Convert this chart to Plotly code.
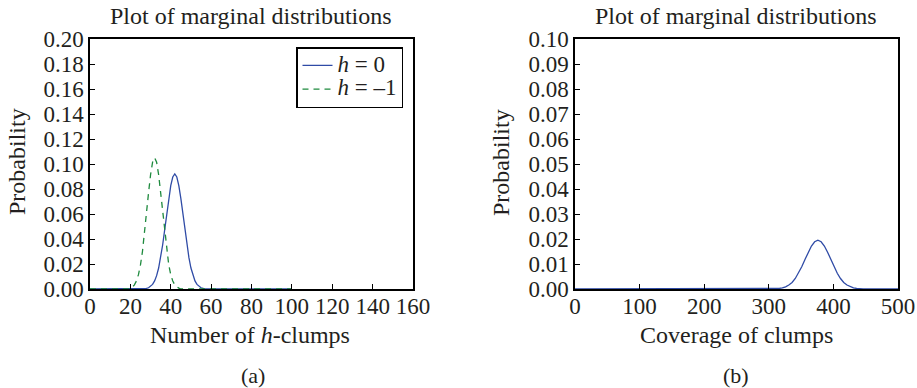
import plotly.graph_objects as go

# ---- data ----
h0_x = [0, 27, 28, 29, 30, 31, 32, 33, 34, 35, 36, 37, 38, 39, 40, 41, 42, 43, 44, 45,
        46, 47, 48, 49, 50, 51, 52, 53, 54, 55, 56, 57, 100]
h0_y = [0, 0, 0.0005, 0.0010, 0.0020, 0.0037, 0.0065, 0.0107, 0.0168, 0.0251, 0.0354,
        0.0474, 0.0602, 0.0725, 0.0827, 0.0896, 0.0920, 0.0896, 0.0827, 0.0725, 0.0602,
        0.0474, 0.0354, 0.0251, 0.0168, 0.0107, 0.0065, 0.0037, 0.0020, 0.0010, 0.0005, 0, 0]

hm1_x = [0, 19, 20, 21, 22, 23, 24, 25, 26, 27, 28, 29, 30, 31, 32, 33, 34, 35, 36, 37,
         38, 39, 40, 41, 42, 43, 44, 45, 100]
hm1_y = [0, 0, 0.0007, 0.0016, 0.0033, 0.0064, 0.0115, 0.0193, 0.0302, 0.0442, 0.0603,
         0.0769, 0.0914, 0.1014, 0.1050, 0.1014, 0.0914, 0.0769, 0.0603, 0.0442, 0.0302,
         0.0193, 0.0115, 0.0064, 0.0033, 0.0016, 0.0007, 0, 0]

cov_x = [0, 306, 311, 316, 321, 326, 331, 336, 341, 346, 351, 356, 361, 366, 371, 376,
         381, 386, 391, 396, 401, 406, 411, 416, 421, 426, 431, 436, 441, 446, 500]
cov_y = [0, 0, 0.0001, 0.00022, 0.00044, 0.00086, 0.0016, 0.0026, 0.0042, 0.0063, 0.0089,
         0.0118, 0.0147, 0.0172, 0.0189, 0.0195, 0.0189, 0.0172, 0.0147, 0.0118, 0.0089,
         0.0063, 0.0042, 0.0026, 0.0016, 0.00086, 0.00044, 0.00022, 0.0001, 0, 0]

left_xticks = [0, 20, 40, 60, 80, 100, 120, 140, 160]
left_yticks = [0.00, 0.02, 0.04, 0.06, 0.08, 0.10, 0.12, 0.14, 0.16, 0.18, 0.20]
right_xticks = [0, 100, 200, 300, 400, 500]
right_yticks = [0.00, 0.01, 0.02, 0.03, 0.04, 0.05, 0.06, 0.07, 0.08, 0.09, 0.10]

BLUE = "#2f4ba6"
GREEN = "#1e8a3e"
TXT = "#231f20"
FONT = "Liberation Serif"

def leg(label):
    return '<span style="font-size:23px">' + label + '</span>'

fig = go.Figure()
fig.add_trace(go.Scatter(x=h0_x, y=h0_y, mode="lines", name=leg("<i>h</i> = 0"),
                         line=dict(color=BLUE, width=1.3), xaxis="x", yaxis="y"))
fig.add_trace(go.Scatter(x=hm1_x, y=hm1_y, mode="lines", name=leg("<i>h</i> = \u20131"),
                         line=dict(color=GREEN, width=1.3, dash="6px,5px"), xaxis="x", yaxis="y"))
fig.add_trace(go.Scatter(x=cov_x, y=cov_y, mode="lines", showlegend=False,
                         line=dict(color=BLUE, width=1.3), xaxis="x2", yaxis="y2"))

ax_common = dict(showline=True, linecolor="black", linewidth=1.5, mirror=True,
                 ticks="inside", ticklen=5, tickcolor="black", showgrid=False,
                 zeroline=False, automargin=False,
                 tickfont=dict(family=FONT, size=23, color=TXT))

ydom = [1 - 289 / 388, 1 - 39 / 388]
fig.update_layout(
    template="none",
    width=917, height=388,
    margin=dict(l=0, r=0, t=0, b=0, pad=0),
    paper_bgcolor="white", plot_bgcolor="white",
    font=dict(family=FONT, color=TXT),
    xaxis=dict(domain=[90 / 917, 413 / 917], range=[0, 160], tickvals=left_xticks,
               anchor="y", ticklabelstandoff=-4, **ax_common),
    yaxis=dict(domain=ydom, range=[0, 0.2], tickvals=left_yticks, tickformat=".2f",
               anchor="x", **ax_common),
    xaxis2=dict(domain=[575 / 917, 898 / 917], range=[0, 500], tickvals=right_xticks,
                anchor="y2", ticklabelstandoff=-4, **ax_common),
    yaxis2=dict(domain=ydom, range=[0, 0.1], tickvals=right_yticks, tickformat=".2f",
                anchor="x2", **ax_common),
    showlegend=True,
    legend=dict(x=403 / 917, xanchor="right", y=1 - 47 / 388, yanchor="top",
                bgcolor="white", bordercolor="black", borderwidth=1.5,
                font=dict(family=FONT, size=16, color=TXT), tracegroupgap=0,
                itemwidth=30),
)

ann = []
def add_text(x, y, text, size, angle=0):
    ann.append(dict(x=x / 917, y=1 - y / 388, xref="paper", yref="paper", text=text,
                    showarrow=False, font=dict(family=FONT, size=size, color=TXT),
                    textangle=angle, xanchor="center", yanchor="middle"))

add_text(251, 16, "Plot of marginal distributions", 24)
add_text(736, 16, "Plot of marginal distributions", 24)
add_text(250, 335, "Number of <i>h</i>-clumps", 24)
add_text(736, 335, "Coverage of clumps", 24)
add_text(253, 375, "(a)", 22)
add_text(736, 375, "(b)", 22)
add_text(17, 162, "Probability", 24, -90)
add_text(501, 162, "Probability", 24, -90)
fig.update_layout(annotations=ann)

fig.write_html("out.html", config={"displayModeBar": False},
               post_script="document.body.style.margin='0';")
